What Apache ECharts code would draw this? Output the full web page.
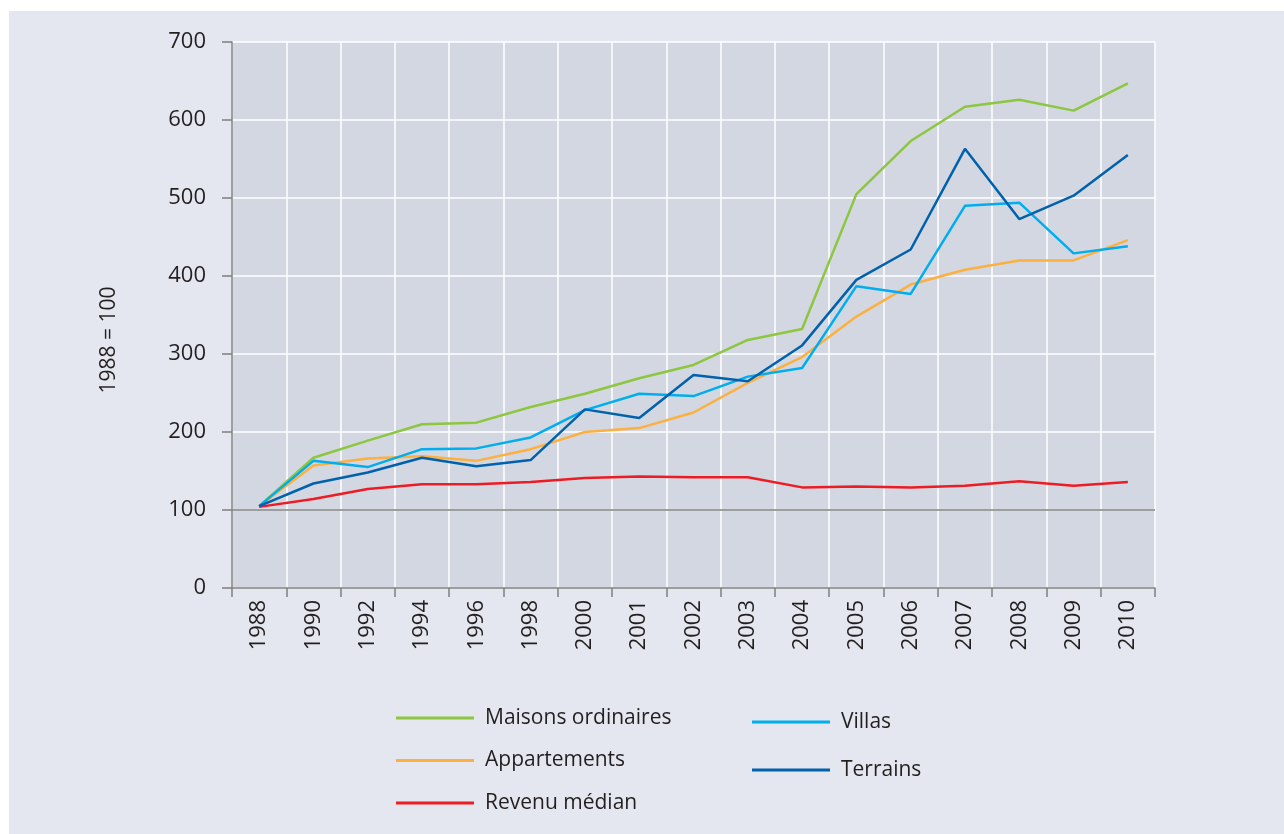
<!DOCTYPE html>
<html>
<head>
<meta charset="utf-8">
<script src="https://cdn.jsdelivr.net/npm/echarts@6/dist/echarts.min.js"></script>
<style>
html,body{margin:0;padding:0;background:#fff;}
#main{position:absolute;left:9px;top:11px;width:1275px;height:823px;}
</style>
</head>
<body>
<div id="main"></div>
<script>
/*données : indices 1988 = 100*/
var years = ["1988","1990","1992","1994","1996","1998","2000","2001","2002","2003","2004","2005","2006","2007","2008","2009","2010"];
var maisons = [105,167,189,210,212,232,249,269,286,318,332,505,573,617,626,612,647];
var villas = [105,163,155,178,179,193,228,249,246,271,282,387,377,490,494,429,438];
var terrains = [105,134,148,167,156,164,229,218,273,265,311,395,434,563,473,503,555];
var appartements = [105,157,166,169,163,178,200,205,225,263,296,348,389,408,420,420,446];
var revenu = [104,114,127,133,133,136,141,143,142,142,129,130,129,131,137,131,136];
var yTicks = [0,100,200,300,400,500,600,700];

var font = "'Open Sans', 'DejaVu Sans', sans-serif";
var txt = "#231f20";

var myChart = echarts.init(document.getElementById('main'));

function serie(name, data, color){
    return {
        name:name,
        type:'line',
        data:data,
        symbol:'none',
        lineStyle:{width:2.5,color:color},
        itemStyle:{color:color},
        z:3
    };
}

var series = [
    serie('Maisons ordinaires', maisons, '#8dc63f'),
    serie('Appartements', appartements, '#fbb040'),
    serie('Revenu médian', revenu, '#ed1c24'),
    serie('Villas', villas, '#00aeef'),
    serie('Terrains', terrains, '#0061ad')
];
//ligne de référence 100
series[2].markLine = {
    silent:true,
    symbol:'none',
    label:{show:false},
    lineStyle:{color:'#808080',width:1.5,type:'solid'},
    data:[{yAxis:100}],
    z:2
};

var legendBase = {
    orient:'vertical',
    icon:'rect',
    itemWidth:78,
    itemHeight:3,
    textStyle:{fontFamily:font,fontSize:21,color:txt,lineHeight:24,padding:[0,0,0,6]}
};

option = {
    backgroundColor:'#e4e7ef',
    animation:false,
    grid:{left:223,top:31,right:129,bottom:246,show:true,backgroundColor:'#d3d7e1',borderWidth:0},
    legend:[
        Object.assign({}, legendBase, {left:382,top:690,itemGap:18.5,
            data:['Maisons ordinaires','Appartements','Revenu médian']}),
        Object.assign({}, legendBase, {left:738,top:694,itemGap:24,
            data:['Villas','Terrains']})
    ],
    xAxis:{
        type:'category',
        data:years,
        boundaryGap:true,
        axisLine:{lineStyle:{color:'#808080',width:1.5}},
        axisTick:{show:true,length:9,lineStyle:{color:'#808080',width:1.5}},
        axisLabel:{rotate:90,margin:12,fontFamily:font,fontSize:22,color:txt},
        splitLine:{show:true,lineStyle:{color:'#ffffff',width:1.5}}
    },
    yAxis:{
        type:'value',
        min:yTicks[0],
        max:yTicks[yTicks.length-1],
        interval:100,
        name:'1988 = 100',
        nameLocation:'middle',
        nameGap:112,
        nameTextStyle:{fontFamily:font,fontSize:21,color:txt,padding:[0,50,0,0]},
        axisLine:{show:true,lineStyle:{color:'#808080',width:1.5}},
        axisTick:{show:true,length:10,lineStyle:{color:'#808080',width:1.5}},
        axisLabel:{margin:26,fontFamily:font,fontSize:22,color:txt},
        splitLine:{show:true,lineStyle:{color:'#ffffff',width:1.5}}
    },
    series:series
};
myChart.setOption(option);
</script>
</body>
</html>
